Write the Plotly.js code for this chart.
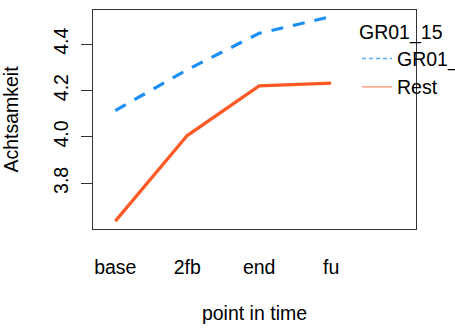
<!DOCTYPE html>
<html>
<head>
<meta charset="utf-8">
<script src="https://cdn.plot.ly/plotly-3.0.1.min.js"></script>
<style>html,body{margin:0;padding:0;background:#fff;}#chart{width:455px;height:335px;}</style>
</head>
<body>
<div id="chart"></div>
<script>
var timePoints = ['base', '2fb', 'end', 'fu'];
var groupName = 'GR01_15';
var seriesNames = ['GR01_15', 'Rest'];
var valuesGR = [4.114, 4.29, 4.447, 4.519];
var valuesRest = [3.637, 4.006, 4.22, 4.232];
var yTicks = [3.8, 4.0, 4.2, 4.4];
var yTickText = ['3.8', '4.0', '4.2', '4.4'];

var blue = '#1b8ff5';
var red = '#ff5a26';
var font = 'Liberation Sans, Arial, sans-serif';

var traces = [
  {x: timePoints, y: valuesGR, type: 'scatter', mode: 'lines', name: seriesNames[0],
   line: {color: blue, width: 3.2, dash: '12px,10px'}, showlegend: false},
  {x: timePoints, y: valuesRest, type: 'scatter', mode: 'lines', name: seriesNames[1],
   line: {color: red, width: 3.2}, showlegend: false},
  {x: [null], y: [null], type: 'scatter', mode: 'lines', name: seriesNames[0],
   line: {color: '#5ab0f8', width: 1.3, dash: '4px,3px'}, showlegend: true},
  {x: [null], y: [null], type: 'scatter', mode: 'lines', name: seriesNames[1],
   line: {color: '#ff9070', width: 1.3}, showlegend: true}
];

var layout = {
  width: 455, height: 335,
  margin: {l: 93, r: 39, t: 10, b: 105.5, pad: 0, autoexpand: false},
  paper_bgcolor: '#fff', plot_bgcolor: '#fff',
  font: {family: font, size: 19.5, color: '#000'},
  xaxis: {
    type: 'category', range: [-0.31, 4.18],
    showgrid: false, zeroline: false,
    showline: true, mirror: true, linecolor: '#333', linewidth: 1,
    ticks: '', ticklabelstandoff: 21,
    tickfont: {family: font, size: 19.5, color: '#000'},
    title: {text: 'point in time', font: {family: font, size: 19.5, color: '#000'}, standoff: 28}
  },
  yaxis: {
    range: [3.603, 4.5475],
    showgrid: false, zeroline: false,
    showline: true, mirror: true, linecolor: '#333', linewidth: 1,
    ticks: 'outside', ticklen: 11, tickcolor: '#333', tickwidth: 1,
    tickvals: yTicks, ticktext: yTickText, tickangle: -90, ticklabelstandoff: 5,
    tickfont: {family: font, size: 19.5, color: '#000'},
    title: {text: 'Achtsamkeit', font: {family: font, size: 19.5, color: '#000'}, standoff: 27}
  },
  legend: {
    xanchor: 'left', yanchor: 'top',
    x: (357 - 93) / (455 - 93 - 39), y: 1.0 - 4 / (335 - 10 - 105.5),
    title: {text: groupName, font: {family: font, size: 19.5, color: '#000'}},
    font: {family: font, size: 19.5, color: '#000'},
    bgcolor: 'rgba(0,0,0,0)', borderwidth: 0
  },
  showlegend: true
};

Plotly.newPlot('chart', traces, layout, {displayModeBar: false, staticPlot: true});
</script>
</body>
</html>
